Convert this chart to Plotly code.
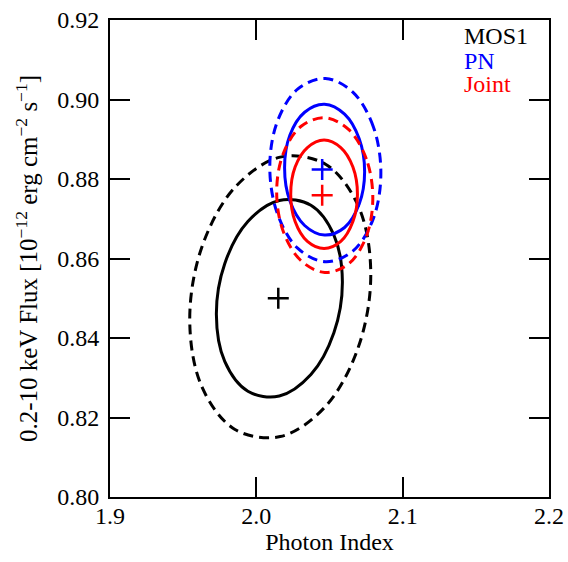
import plotly.graph_objects as go

# ---- data (confidence contours & best fits) ----
mos1_inner_x = [2.0588, 2.0530, 2.0373, 2.0157, 1.9942, 1.9784, 1.9727, 1.9784, 1.9942, 2.0157, 2.0373, 2.0530, 2.0588]
mos1_inner_y = [0.8542, 0.8659, 0.8734, 0.8746, 0.8693, 0.8587, 0.8459, 0.8341, 0.8266, 0.8254, 0.8308, 0.8413, 0.8542]
mos1_outer_x = [2.0782, 2.0699, 2.0473, 2.0163, 1.9854, 1.9628, 1.9545, 1.9628, 1.9854, 2.0163, 2.0473, 2.0699, 2.0782]
mos1_outer_y = [0.8562, 0.8730, 0.8837, 0.8855, 0.8779, 0.8629, 0.8445, 0.8277, 0.8170, 0.8152, 0.8228, 0.8379, 0.8562]

pn_inner_x = [2.0740, 2.0703, 2.0603, 2.0466, 2.0330, 2.0229, 2.0193, 2.0229, 2.0330, 2.0466, 2.0603, 2.0703, 2.0740]
pn_inner_y = [0.8818, 0.8901, 0.8963, 0.8988, 0.8968, 0.8910, 0.8828, 0.8745, 0.8683, 0.8659, 0.8678, 0.8737, 0.8818]
pn_outer_x = [2.0851, 2.0800, 2.0661, 2.0472, 2.0282, 2.0143, 2.0092, 2.0143, 2.0282, 2.0472, 2.0661, 2.0800, 2.0851]
pn_outer_y = [0.8815, 0.8931, 0.9018, 0.9053, 0.9026, 0.8944, 0.8830, 0.8714, 0.8626, 0.8592, 0.8619, 0.8701, 0.8815]

joint_inner_x = [2.0691, 2.0660, 2.0577, 2.0463, 2.0349, 2.0265, 2.0235, 2.0265, 2.0349, 2.0463, 2.0577, 2.0660, 2.0691]
joint_inner_y = [0.8761, 0.8830, 0.8879, 0.8898, 0.8879, 0.8830, 0.8761, 0.8693, 0.8643, 0.8625, 0.8643, 0.8693, 0.8761]
joint_outer_x = [2.0796, 2.0752, 2.0632, 2.0468, 2.0304, 2.0183, 2.0139, 2.0183, 2.0304, 2.0468, 2.0632, 2.0752, 2.0796]
joint_outer_y = [0.8752, 0.8850, 0.8924, 0.8954, 0.8932, 0.8863, 0.8767, 0.8669, 0.8595, 0.8565, 0.8587, 0.8656, 0.8752]

best_x = [2.015, 2.045, 2.045]
best_y = [0.850, 0.8824, 0.8759]
series_names = ["MOS1", "PN", "Joint"]
series_colors = ["#000000", "#0000ff", "#ff0000"]

x_ticks = [1.9, 2.0, 2.1, 2.2]
y_ticks = [0.80, 0.82, 0.84, 0.86, 0.88, 0.90, 0.92]

FONT = "Liberation Serif, Times New Roman, DejaVu Serif, serif"

contours = [
    (mos1_inner_x, mos1_inner_y, mos1_outer_x, mos1_outer_y),
    (pn_inner_x, pn_inner_y, pn_outer_x, pn_outer_y),
    (joint_inner_x, joint_inner_y, joint_outer_x, joint_outer_y),
]

fig = go.Figure()
for (ix, iy, ox, oy), name, col in zip(contours, series_names, series_colors):
    fig.add_trace(go.Scatter(x=ox, y=oy, mode="lines", name=name + " outer",
                             line=dict(color=col, width=3, dash="10px,6px", shape="spline"),
                             showlegend=False, hoverinfo="skip"))
    fig.add_trace(go.Scatter(x=ix, y=iy, mode="lines", name=name + " inner",
                             line=dict(color=col, width=3, shape="spline"),
                             showlegend=False, hoverinfo="skip"))

for bx, by, name, col in zip(best_x, best_y, series_names, series_colors):
    fig.add_trace(go.Scatter(x=[bx], y=[by], mode="markers", name=name,
                             marker=dict(symbol="cross-thin", size=15,
                                         line=dict(color=col, width=2.5)),
                             showlegend=False))

# label block in the top-right corner
label_y = [0.966, 0.914, 0.866]
for name, col, ly in zip(series_names, series_colors, label_y):
    fig.add_annotation(x=0.802, y=ly, xref="paper", yref="paper", text=name,
                       showarrow=False, xanchor="left", yanchor="middle",
                       font=dict(family=FONT, size=24, color=col))

axis_common = dict(showline=True, linecolor="black", linewidth=2, mirror="ticks",
                   ticks="inside", ticklen=20, tickwidth=2, tickcolor="black",
                   showgrid=False, zeroline=False, automargin=False,
                   tickfont=dict(family=FONT, size=24, color="black"))

fig.update_xaxes(range=[1.9, 2.2], tickvals=x_ticks, tickformat=".1f",
                 ticklabelstandoff=-4,
                 title=dict(text="Photon Index", font=dict(family=FONT, size=24, color="black"),
                            standoff=0),
                 **axis_common)
fig.update_yaxes(range=[0.80, 0.92], tickvals=y_ticks, tickformat=".2f",
                 ticklabelstandoff=4,
                 title=dict(text="0.2-10 keV Flux [10<sup>\u221212</sup> erg cm<sup>\u22122</sup> s<sup>\u22121</sup>]",
                            font=dict(family=FONT, size=25, color="black"), standoff=12),
                 **axis_common)

fig.update_layout(width=568, height=562, margin=dict(l=110, r=19, t=20, b=65),
                  paper_bgcolor="white", plot_bgcolor="white", showlegend=False)

# remove the default page margin so the figure sits at the window's corner
fig.write_html("out.html", config={"displayModeBar": False},
               post_script="document.body.style.margin='0';")
